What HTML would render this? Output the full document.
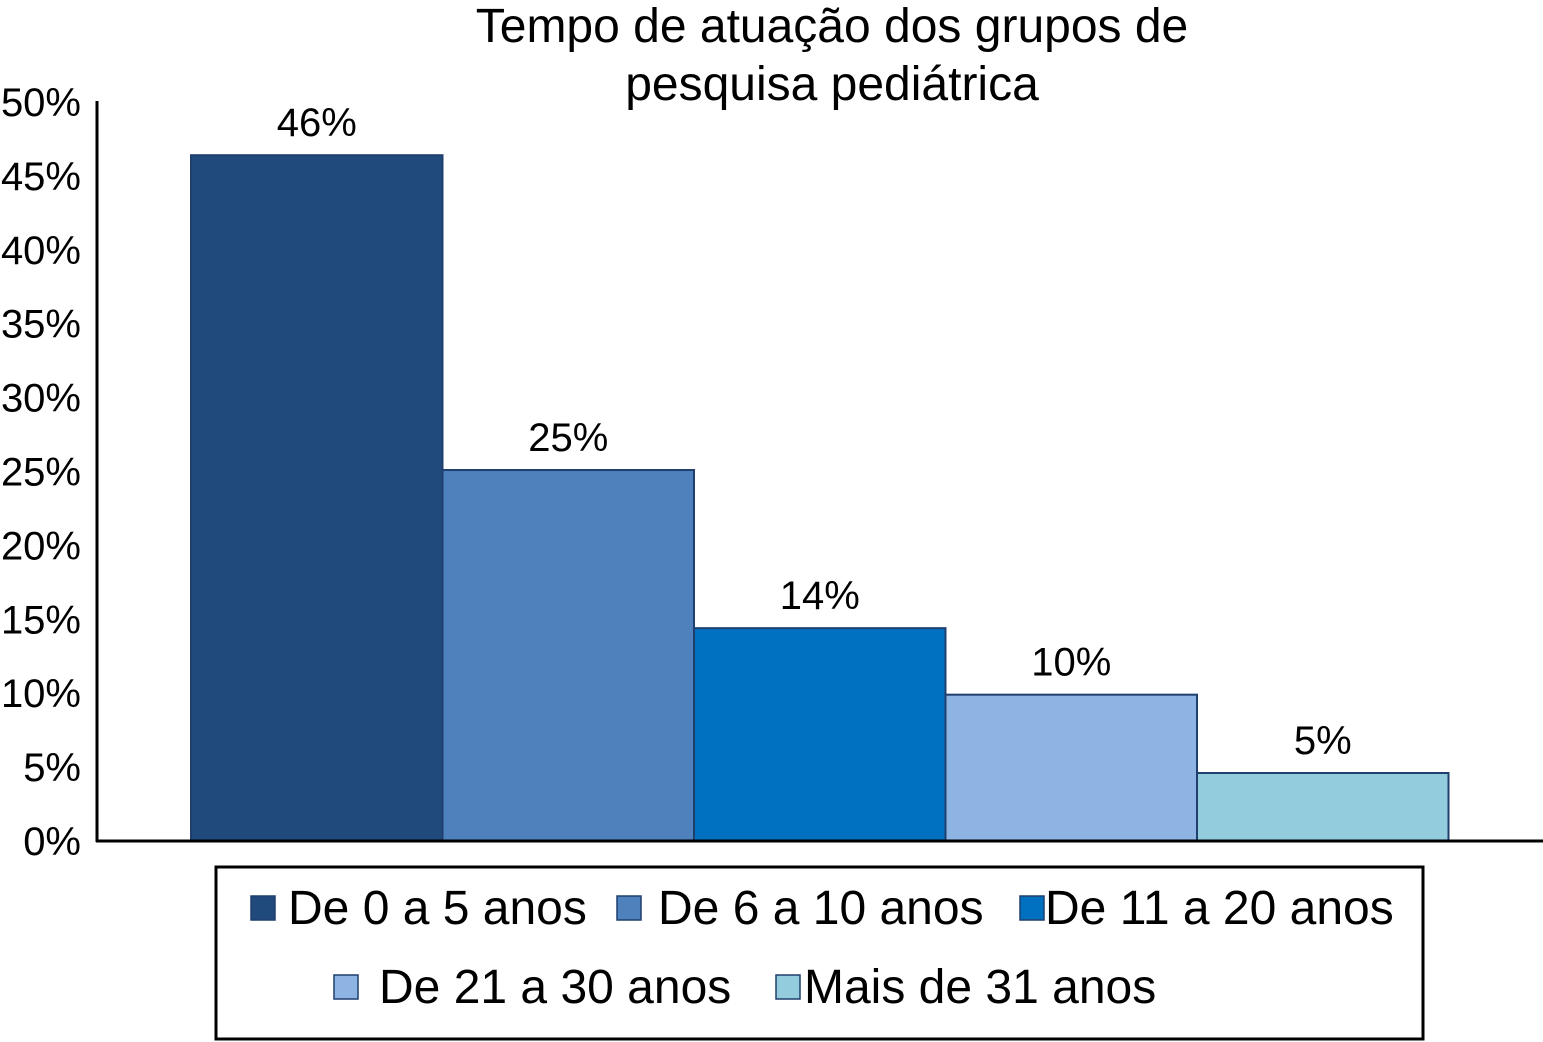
<!DOCTYPE html>
<html><head><meta charset="utf-8"><style>
body{margin:0;background:#fff;}
svg{display:block;font-family:"Liberation Sans",sans-serif;}
</style></head><body>
<svg id="chart" width="1543" height="1042" viewBox="0 0 1543 1042">
<text x="832" y="42" font-size="48" text-anchor="middle">Tempo de atuação dos grupos de</text>
<text x="832" y="100" font-size="48" text-anchor="middle">pesquisa pediátrica</text>
<g id="yticks"></g>
<g id="bars"></g>
<line x1="97" y1="101" x2="97" y2="842" stroke="#000" stroke-width="3"/>
<line x1="96" y1="841" x2="1543" y2="841" stroke="#000" stroke-width="3"/>
<rect x="216" y="867" width="1207" height="172" fill="none" stroke="#000" stroke-width="3"/>
<g id="legend"></g>
</svg>
<script>
const categories=["De 0 a 5 anos","De 6 a 10 anos","De 11 a 20 anos","De 21 a 30 anos","Mais de 31 anos"];
const values=[46.4,25.1,14.4,9.9,4.6];
const valueLabels=["46%","25%","14%","10%","5%"];
const yTicks=[0,5,10,15,20,25,30,35,40,45,50];
const colors=["#214a7c","#4f81bd","#0070c0","#8eb4e3","#93cddd"];
const NS="http://www.w3.org/2000/svg";
const y0=841,y1=102,yMax=50;
function yScale(v){return y0-(v/yMax)*(y0-y1);}
const barStart=191,barW=251.5;
function xScale(i){return barStart+i*barW;}
function mk(t,a){const e=document.createElementNS(NS,t);for(const k in a)e.setAttribute(k,a[k]);return e;}
const yt=document.getElementById('yticks');
yTicks.forEach(t=>{
  const e=mk('text',{x:81,y:yScale(t)+14,'font-size':40,'text-anchor':'end'});
  
  
  e.textContent=t+'%';yt.appendChild(e);
});
const bg=document.getElementById('bars');
values.forEach((v,i)=>{
  const r=mk('rect',{x:xScale(i),y:yScale(v),width:barW,height:y0-yScale(v),fill:colors[i],stroke:'#1f3f6e','stroke-width':2});
  
  
  bg.appendChild(r);
  const t=mk('text',{x:xScale(i)+barW/2,y:yScale(v)-19,'font-size':40,'text-anchor':'middle'});
  
  
  t.textContent=valueLabels[i];bg.appendChild(t);
});
const lg=document.getElementById('legend');
const lpos=[[251,288,924],[617,658,924],[1020,1045,924],[334,379,1003],[776,804,1003]];
categories.forEach((c,i)=>{
  const [mx,tx,y]=lpos[i];
  const g=mk('g',{});
  
  
  g.appendChild(mk('rect',{x:mx,y:y-28,width:24,height:24,fill:colors[i],stroke:'#1f3f6e','stroke-width':1.5}));
  const t=mk('text',{x:tx,y:y,'font-size':48});
  t.textContent=c;g.appendChild(t);lg.appendChild(g);
});
</script>
</body></html>
